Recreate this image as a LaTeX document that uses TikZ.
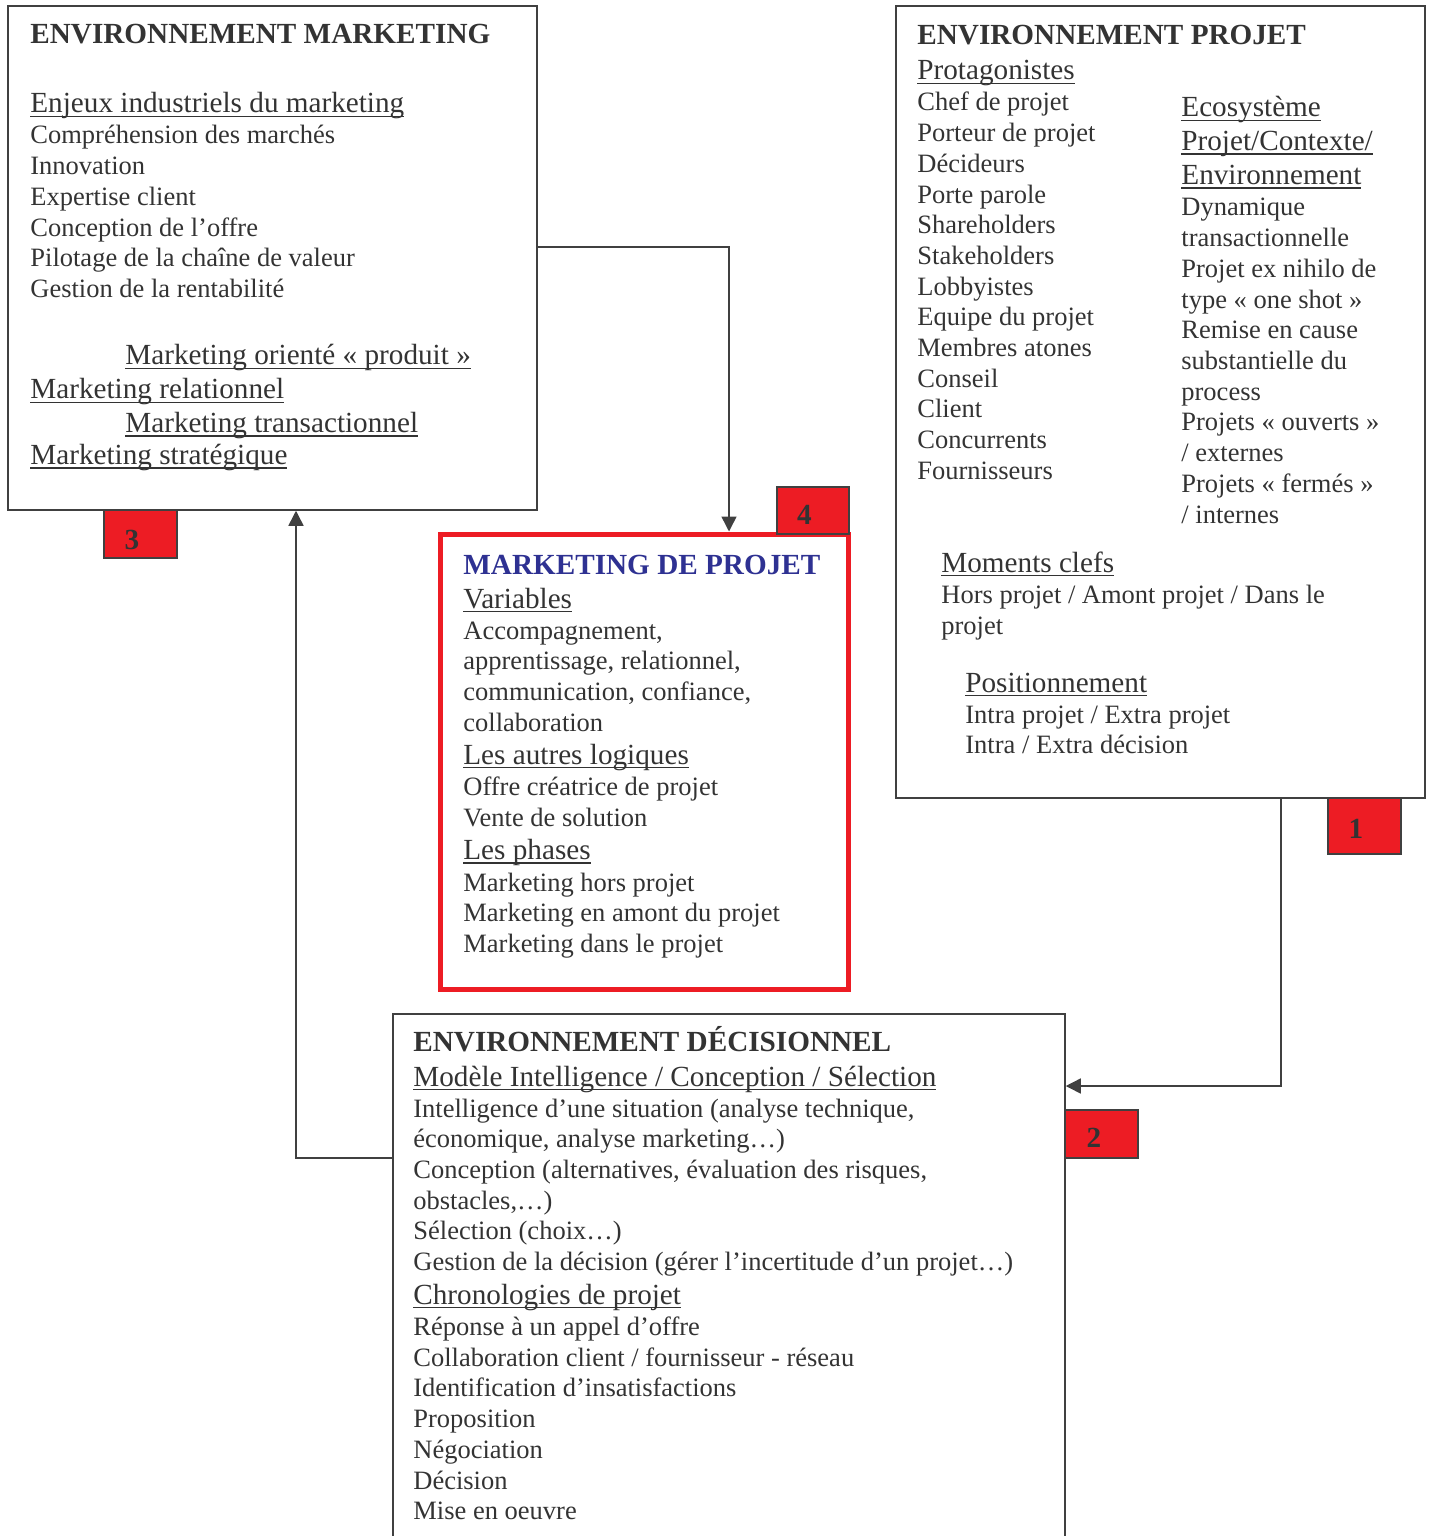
\documentclass[tikz,border=0pt]{standalone}
\usepackage{fontspec}
\setmainfont{Liberation Serif}
\usetikzlibrary{fit,arrows.meta}

\definecolor{rouge}{HTML}{ED1C24}
\definecolor{bleu}{HTML}{2E3192}
\definecolor{encre}{HTML}{333333}

\newcommand{\corps}{\fontsize{13.25pt}{15.35pt}\selectfont}
\newcommand{\titre}[1]{{\fontsize{14.6pt}{15.35pt}\selectfont\bfseries #1}}
\newsavebox{\boitesoul}
\newcommand{\souligne}[1]{\leavevmode\sbox{\boitesoul}{#1}\rlap{\rule[-2.1pt]{\wd\boitesoul}{0.8pt}}\usebox{\boitesoul}}
\newcommand{\rubrique}[1]{{\fontsize{14.6pt}{15.35pt}\selectfont\souligne{#1}}}

\begin{document}
\begin{tikzpicture}[x=0.5pt, y=-0.5pt]
\tikzstyle{boite} = [draw=black!75, line width=0.75pt, inner sep=0pt];
\tikzstyle{cadre} = [draw=rouge, line width=2.5pt, inner sep=0pt];
\tikzstyle{carre} = [draw=black!75, line width=0.75pt, fill=rouge, inner sep=0pt];
\tikzstyle{chiffre} = [anchor=base, inner sep=0pt, font=\fontsize{14.6pt}{15pt}\selectfont\bfseries, text=encre];
\tikzstyle{texte} = [anchor=base west, inner sep=0pt, align=flush left, text width=400pt, font=\corps, text=encre];
\tikzstyle{fleche} = [draw=black!75, line width=0.75pt, -{Triangle[length=7.5pt,width=7.5pt]}];
\useasboundingbox (0,0) rectangle (1431,1536);

% les quatre environnements
\node[boite, fit={(8,6) (537,510)}] (mk) {};
\node[boite, fit={(896,6) (1425,798)}] (pj) {};
\node[cadre, fit={(440.5,534) (848.5,989)}] (mp) {};
\node[boite, fit={(393,1014) (1065,1560)}] (dc) {};

\node[texte] (mktxt) at (30,44) {\titre{ENVIRONNEMENT MARKETING}\\[19.15pt]
\rubrique{Enjeux industriels du marketing}\\[0.15pt]
Compréhension des marchés\\
Innovation\\
Expertise client\\
Conception de l’offre\\
Pilotage de la chaîne de valeur\\
Gestion de la rentabilité\\[18.4pt]
\hspace*{47.5pt}\rubrique{Marketing orienté « produit »}\\[1.65pt]
\rubrique{Marketing relationnel}\\[1.4pt]
\hspace*{47.5pt}\rubrique{Marketing transactionnel}\\[0.65pt]
\rubrique{Marketing stratégique}};

\node[texte] (pjgauche) at (917,45) {\titre{ENVIRONNEMENT PROJET}\\[2.15pt]
\rubrique{Protagonistes}\\[0.15pt]
Chef de projet\\
Porteur de projet\\
Décideurs\\
Porte parole\\
Shareholders\\
Stakeholders\\
Lobbyistes\\
Equipe du projet\\
Membres atones\\
Conseil\\
Client\\
Concurrents\\
Fournisseurs};

\node[texte] (pjdroite) at (1181,117) {\rubrique{Ecosystème}\\[1.4pt]
\rubrique{Projet/Contexte/}\\[1.65pt]
\rubrique{Environnement}\\[0.4pt]
Dynamique\\
transactionnelle\\
Projet ex nihilo de\\
type « one shot »\\
Remise en cause\\
substantielle du\\
process\\
Projets « ouverts »\\
/ externes\\
Projets « fermés »\\
/ internes};

\node[texte] (moments) at (941,572) {\rubrique{Moments clefs}\\[0.15pt]
Hors projet / Amont projet / Dans le\\[0.6pt]
projet};

\node[texte] (position) at (965,692) {\rubrique{Positionnement}\\[0.15pt]
Intra projet / Extra projet\\
Intra / Extra décision};

\node[texte] (mptxt) at (463,574) {\titre{\color{bleu}MARKETING DE PROJET}\\[1.65pt]
\rubrique{Variables}\\[0.15pt]
Accompagnement,\\
apprentissage, relationnel,\\
communication, confiance,\\
collaboration\\[1.15pt]
\rubrique{Les autres logiques}\\[0.15pt]
Offre créatrice de projet\\[0.4pt]
Vente de solution\\[1.15pt]
\rubrique{Les phases}\\[0.4pt]
Marketing hors projet\\
Marketing en amont du projet\\
Marketing dans le projet};

\node[texte] (dctxt) at (413,1051) {\titre{ENVIRONNEMENT DÉCISIONNEL}\\[2.15pt]
\rubrique{Modèle Intelligence / Conception / Sélection}\\[0.15pt]
Intelligence d’une situation (analyse technique,\\
économique, analyse marketing…)\\
Conception (alternatives, évaluation des risques,\\
obstacles,…)\\
Sélection (choix…)\\
Gestion de la décision (gérer l’incertitude d’un projet…)\\[1.45pt]
\rubrique{Chronologies de projet}\\[0.35pt]
Réponse à un appel d’offre\\
Collaboration client / fournisseur - réseau\\
Identification d’insatisfactions\\
Proposition\\
Négociation\\
Décision\\
Mise en oeuvre};

% liaisons
\coordinate (coude1) at (729,247);
\coordinate (coude2) at (1281,1086);
\coordinate (coude3) at (296,1158);
\draw[fleche] (mk.east |- coude1) -| (mp.north -| coude1);
\draw[fleche] (pj.south -| coude2) |- (dc.east |- coude2);
\draw[fleche] (dc.west |- coude3) -| (mk.south -| coude3);

% numeros
\node[carre, fit={(104,510) (177,558)}] (c3) {};
\node[carre, fit={(777,487) (849,534)}] (c4) {};
\node[carre, fit={(1328,798) (1401,854)}] (c1) {};
\node[carre, fit={(1065,1110) (1138,1158)}] (c2) {};
\node[chiffre] (n3) at (132,549) {3};
\node[chiffre] (n4) at (804.5,524) {4};
\node[chiffre] (n1) at (1356,838) {1};
\node[chiffre] (n2) at (1094,1147) {2};
\end{tikzpicture}
\end{document}
